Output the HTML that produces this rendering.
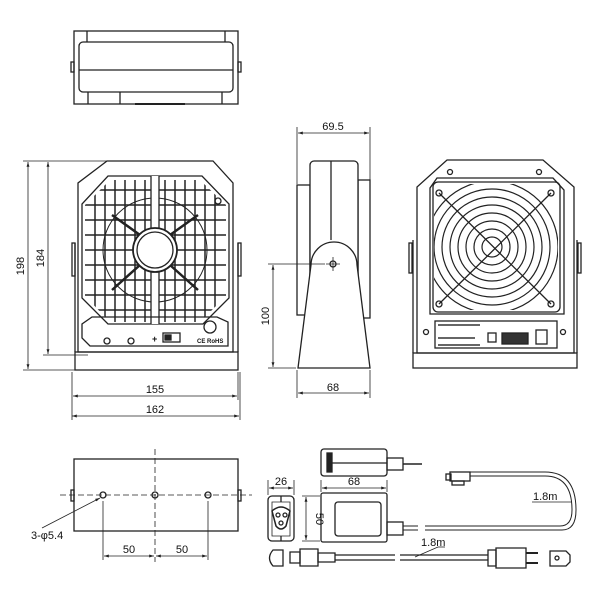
<!DOCTYPE html>
<html><head><meta charset="utf-8"><style>
html,body{margin:0;padding:0;background:#fff}
svg{display:block}
text{font-family:"Liberation Sans",Arial,sans-serif;fill:#111}
</style></head><body>
<svg width="600" height="589" viewBox="0 0 600 589" xmlns="http://www.w3.org/2000/svg">
<defs>
<marker id="a" viewBox="0 0 10 10" refX="10" refY="5" markerWidth="6" markerHeight="6" orient="auto-start-reverse"><path d="M0,2 L10,5 L0,8 z" fill="#222"/></marker>
<clipPath id="oct"><polygon points="110,180 200,180 226,205 226,296 200,322 110,322 85,296 85,205"/></clipPath>
<clipPath id="sq"><rect x="434" y="184" width="124" height="126" rx="6"/></clipPath>
</defs>
<g fill="none" stroke="#222" stroke-width="1.3">
<!-- TOP VIEW -->
<rect x="74" y="31" width="164" height="73"/>
<rect x="79" y="42" width="154" height="50" rx="4"/>
<line x1="79" y1="70" x2="233" y2="70"/>
<line x1="87" y1="31" x2="87" y2="42"/><line x1="225" y1="31" x2="225" y2="42"/>
<line x1="88" y1="92" x2="88" y2="104"/><line x1="120" y1="92" x2="120" y2="104"/><line x1="222" y1="92" x2="222" y2="104"/>
<rect x="71" y="62" width="3" height="10"/><rect x="238" y="62" width="3" height="10"/>
<line x1="135" y1="104" x2="185" y2="104" stroke-width="2"/>

<!-- FRONT VIEW -->
<polygon points="107,161 213,161 233,183 233,352 78,352 78,183"/>
<rect x="75" y="352" width="163" height="18"/>
<rect x="72" y="243" width="3" height="33"/><rect x="238" y="243" width="3" height="33"/>
<line x1="75" y1="243" x2="75" y2="352"/><line x1="238" y1="243" x2="238" y2="352"/>
<polygon points="108,176 202,176 229,204 229,298 203,324 108,324 82,298 82,204"/>
<g clip-path="url(#oct)" stroke-width="1.5">
<path d="M95,178V322M105,178V322M115,178V322M125,178V322M135,178V322M145,178V322M165,178V322M175,178V322M185,178V322M195,178V322M205,178V322M215,178V322"/>
<path d="M82,190H229M82,205H229M82,220H229M82,235H229M82,250H229M82,265H229M82,280H229M82,295H229M82,310H229"/>
<circle cx="155" cy="250" r="52" stroke-width="1"/>
<path d="M112,215L140,235M198,215L170,235M112,290L140,265M198,290L170,265" stroke-width="2.5"/>
</g>
<rect x="151" y="176" width="8" height="148" fill="#fff" stroke="none"/>
<line x1="151" y1="176" x2="151" y2="230"/><line x1="159" y1="176" x2="159" y2="230"/>
<line x1="151" y1="270" x2="151" y2="324"/><line x1="159" y1="270" x2="159" y2="324"/>
<circle cx="155" cy="250" r="22" fill="#fff" stroke-width="1.8"/>
<circle cx="155" cy="250" r="18" fill="#fff"/>
<circle cx="218" cy="201" r="3"/>
<polygon points="92,317 217,317 228,322 228,346 90,346 82,338 82,324"/>
<circle cx="107" cy="341" r="3"/><circle cx="131" cy="341" r="3"/>
<rect x="163" y="333" width="17" height="9" fill="#fff"/>
<rect x="165" y="335" width="6" height="5" fill="#222"/>
<circle cx="210" cy="327" r="6"/>
</g>
<text x="152" y="342" font-size="9" font-weight="bold">+</text>
<text x="197" y="343" font-size="6" font-weight="bold">CE RoHS</text>

<!-- front dimensions -->
<g stroke="#222" stroke-width="0.8" fill="none">
<line x1="23" y1="161" x2="107" y2="161"/><line x1="23" y1="370" x2="75" y2="370"/>
<line x1="43" y1="355" x2="88" y2="355"/>
<line x1="28" y1="162" x2="28" y2="369" marker-start="url(#a)" marker-end="url(#a)"/>
<line x1="48" y1="162" x2="48" y2="354" marker-start="url(#a)" marker-end="url(#a)"/>
<line x1="72" y1="372" x2="72" y2="420"/><line x1="240" y1="372" x2="240" y2="420"/>
<line x1="238" y1="372" x2="238" y2="400"/>
<line x1="73" y1="396" x2="237" y2="396" marker-start="url(#a)" marker-end="url(#a)"/>
<line x1="72" y1="416" x2="239" y2="416" marker-start="url(#a)" marker-end="url(#a)"/>
</g>
<text x="24" y="266" font-size="11" transform="rotate(-90 24 266)" text-anchor="middle">198</text>
<text x="44" y="258" font-size="11" transform="rotate(-90 44 258)" text-anchor="middle">184</text>
<text x="155" y="393" font-size="11" text-anchor="middle">155</text>
<text x="155" y="413" font-size="11" text-anchor="middle">162</text>

<!-- SIDE VIEW -->
<g fill="none" stroke="#222" stroke-width="1.3">
<rect x="297" y="185" width="13" height="130"/>
<rect x="358" y="180" width="12" height="138"/>
<rect x="310" y="161" width="48" height="156" rx="4" fill="#fff"/>
<line x1="331" y1="161" x2="331" y2="240"/>
<path d="M298,368 L311,265 A23,23 0 0 1 357,265 L370,368 Z" fill="#fff"/>
<circle cx="333" cy="264" r="3"/><path d="M333,257V271M326,264H340" stroke-width="0.8"/>
</g>
<g stroke="#222" stroke-width="0.8" fill="none">
<line x1="297" y1="127" x2="297" y2="184"/><line x1="370" y1="127" x2="370" y2="200"/>
<line x1="298" y1="133" x2="369" y2="133" marker-start="url(#a)" marker-end="url(#a)"/>
<line x1="268" y1="264" x2="325" y2="264"/><line x1="268" y1="368" x2="296" y2="368"/>
<line x1="273" y1="265" x2="273" y2="367" marker-start="url(#a)" marker-end="url(#a)"/>
<line x1="297" y1="370" x2="297" y2="398"/><line x1="370" y1="370" x2="370" y2="398"/>
<line x1="298" y1="393" x2="369" y2="393" marker-start="url(#a)" marker-end="url(#a)"/>
</g>
<text x="333" y="130" font-size="11" text-anchor="middle">69.5</text>
<text x="269" y="316" font-size="11" transform="rotate(-90 269 316)" text-anchor="middle">100</text>
<text x="333" y="391" font-size="11" text-anchor="middle">68</text>

<!-- BACK VIEW -->
<g fill="none" stroke="#222" stroke-width="1.3">
<polygon points="447,160 543,160 574,187 574,353 417,353 417,187"/>
<rect x="413" y="353" width="164" height="15"/>
<rect x="409" y="243" width="3" height="30"/><rect x="578" y="243" width="3" height="30"/>
<line x1="413" y1="240" x2="413" y2="353"/><line x1="577" y1="240" x2="577" y2="353"/>
<polygon points="437,178 553,178 564,190 564,314 430,314 430,188"/>
<rect x="433" y="182" width="127" height="130" rx="5"/>
<g clip-path="url(#sq)" stroke-width="1.2">
<circle cx="492" cy="247" r="66"/><circle cx="492" cy="247" r="58"/><circle cx="492" cy="247" r="50"/>
<circle cx="492" cy="247" r="42"/><circle cx="492" cy="247" r="34"/><circle cx="492" cy="247" r="26"/>
<circle cx="492" cy="247" r="18"/><circle cx="492" cy="247" r="10"/>
</g>
<line x1="439" y1="193" x2="551" y2="304"/><line x1="551" y1="193" x2="439" y2="304"/>
<circle cx="439" cy="193" r="3"/><circle cx="551" cy="193" r="3"/><circle cx="439" cy="304" r="3"/><circle cx="551" cy="304" r="3"/>
<circle cx="450" cy="172" r="2.5"/><circle cx="539" cy="172" r="2.5"/>
<circle cx="426" cy="332" r="2.5"/><circle cx="563" cy="332" r="2.5"/>
<rect x="435" y="321" width="122" height="27"/>
<rect x="488" y="333" width="8" height="9"/>
<rect x="502" y="333" width="26" height="11" fill="#333"/>
<rect x="536" y="330" width="11" height="14"/>
</g>
<g stroke="#333" stroke-width="1.5"><line x1="438" y1="325" x2="480" y2="325"/><line x1="438" y1="338" x2="475" y2="338"/><line x1="438" y1="345" x2="480" y2="345"/></g>

<!-- BOTTOM VIEW -->
<g fill="none" stroke="#222" stroke-width="1.3">
<rect x="74" y="459" width="164" height="72"/>
<rect x="71" y="490" width="3" height="11"/><rect x="238" y="490" width="3" height="11"/>
<circle cx="103" cy="495" r="3"/><circle cx="155" cy="495" r="3"/><circle cx="208" cy="495" r="3"/>
</g>
<g stroke="#222" stroke-width="0.8" fill="none">
<line x1="60" y1="495" x2="252" y2="495" stroke-dasharray="6,3"/>
<line x1="155" y1="449" x2="155" y2="562" stroke-dasharray="6,3"/>
<line x1="103" y1="501" x2="103" y2="560"/><line x1="208" y1="501" x2="208" y2="560"/>
<line x1="104" y1="556" x2="154" y2="556" marker-start="url(#a)" marker-end="url(#a)"/>
<line x1="156" y1="556" x2="207" y2="556" marker-start="url(#a)" marker-end="url(#a)"/>
<line x1="42" y1="528" x2="100" y2="498" marker-end="url(#a)"/>
</g>
<text x="129" y="553" font-size="11" text-anchor="middle">50</text>
<text x="182" y="553" font-size="11" text-anchor="middle">50</text>
<text x="31" y="539" font-size="11">3-φ5.4</text>

<!-- ACCESSORIES -->
<g fill="none" stroke="#222" stroke-width="1.3">
<rect x="321" y="449" width="66" height="27" rx="3"/>
<rect x="327" y="453" width="5" height="19" fill="#222"/>
<line x1="332" y1="463" x2="387" y2="463"/>
<rect x="387" y="458" width="16" height="12"/>
<line x1="403" y1="464" x2="422" y2="464" stroke-width="1.6"/>
<rect x="268" y="496" width="26" height="45" rx="4"/>
<line x1="281" y1="496" x2="281" y2="502"/><line x1="281" y1="536" x2="281" y2="541"/>
<path d="M272,502H290V536H272Z" stroke-width="0.8"/>
<path d="M272,511 Q281,503 290,511 L286,526 Q281,532 276,526 Z" stroke-width="1.5"/>
<circle cx="278" cy="515" r="2"/><circle cx="285" cy="515" r="2"/><circle cx="281" cy="523" r="2"/>
<rect x="321" y="493" width="66" height="49" rx="2"/>
<rect x="335" y="502" width="46" height="34" rx="3"/>
<rect x="387" y="522" width="16" height="13"/>
<path d="M403,526H418M403,530H418" stroke-width="1"/>
<path d="M425,526H560 Q572,526 572,510 Q572,476 545,476 L470,476 M425,530H562 Q576,530 576,510 Q576,472 545,472 L470,472" stroke-width="1"/>
<rect x="450" y="472" width="20" height="9"/><rect x="446" y="474" width="5" height="6"/>
<rect x="452" y="481" width="12" height="4"/>
<path d="M273,550 L283,550 L283,566 L273,566 Q266,558 273,550Z"/>
<path d="M290,552H300V563H290Z"/><path d="M300,549H318V566H300Z"/>
<path d="M318,553H335V562H318Z"/>
<path d="M335,555H395M335,560H395M400,555H488M400,560H488"/>
<path d="M488,550H496V566H488Z"/><path d="M496,548H526V568H496Z"/>
<path d="M526,553H538M526,563H538" stroke-width="2"/>
<path d="M550,551H566L570,555V562L566,566H550Z"/>
<circle cx="557" cy="558" r="2"/>
</g>
<g stroke="#222" stroke-width="0.8" fill="none">
<line x1="268" y1="480" x2="268" y2="495"/><line x1="294" y1="480" x2="294" y2="495"/>
<line x1="269" y1="488" x2="293" y2="488" marker-start="url(#a)" marker-end="url(#a)"/>
<line x1="321" y1="480" x2="321" y2="492"/><line x1="387" y1="480" x2="387" y2="492"/>
<line x1="322" y1="488" x2="386" y2="488" marker-start="url(#a)" marker-end="url(#a)"/>
<line x1="302" y1="496" x2="320" y2="496"/><line x1="302" y1="541" x2="320" y2="541"/>
<line x1="306" y1="497" x2="306" y2="540" marker-start="url(#a)" marker-end="url(#a)"/>
<line x1="532" y1="502" x2="572" y2="502"/>
<line x1="415" y1="557" x2="438" y2="547"/><line x1="438" y1="547" x2="445" y2="547"/>
</g>
<text x="281" y="485" font-size="11" text-anchor="middle">26</text>
<text x="354" y="485" font-size="11" text-anchor="middle">68</text>
<text x="316" y="519" font-size="11" transform="rotate(90 316 519)" text-anchor="middle">50</text>
<text x="533" y="500" font-size="11">1.8m</text>
<text x="421" y="546" font-size="11">1.8m</text>
</svg>
</body></html>
